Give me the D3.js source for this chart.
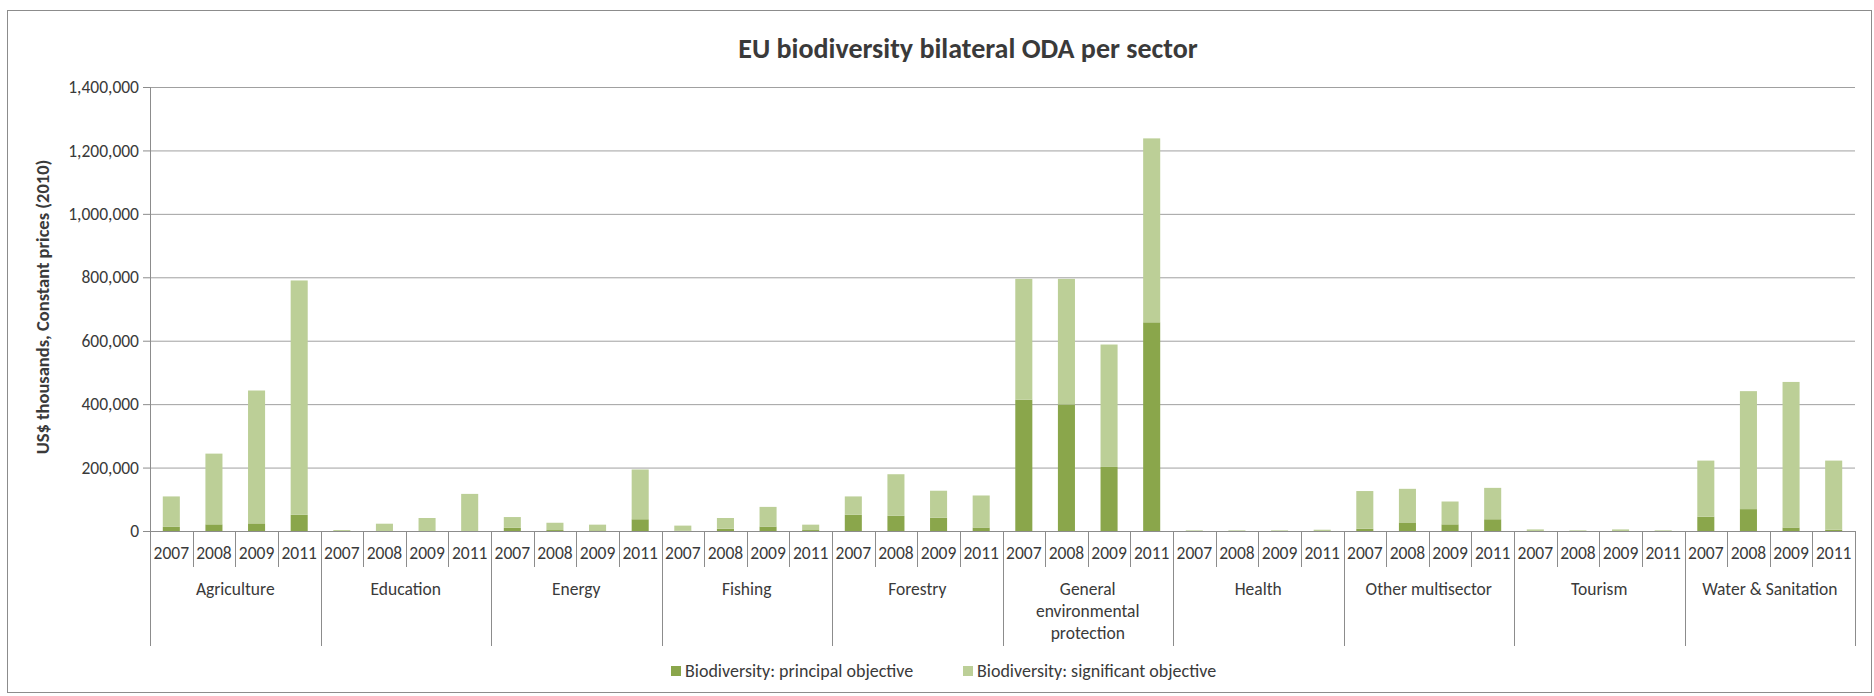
<!DOCTYPE html>
<html>
<head>
<meta charset="utf-8">
<script src="https://cdn.jsdelivr.net/npm/d3@7"></script>
<style>
  body { margin: 0; background: #fff; }
  svg text { font-family: Carlito, Calibri, Lato, sans-serif; fill: #3a3a3a; }
</style>
</head>
<body>
<div id="chart"></div>
<script>
// data (US$ thousands, constant 2010 prices)
const sectors = ['Agriculture', 'Education', 'Energy', 'Fishing', 'Forestry',
  'General environmental protection', 'Health', 'Other multisector', 'Tourism', 'Water & Sanitation'];
const years = ['2007', '2008', '2009', '2011'];

const principalObjective = [
  [13000, 21000, 24000, 51000],
  [0, 0, 0, 0],
  [10000, 3000, 2000, 37000],
  [1000, 7000, 14000, 3000],
  [51000, 48000, 42000, 11000],
  [414000, 399000, 202000, 658000],
  [0, 0, 0, 0],
  [7000, 27000, 21000, 37000],
  [0, 0, 0, 0],
  [45000, 69000, 11000, 4000],
];
const significantObjective = [
  [96000, 223000, 419000, 739000],
  [3000, 23000, 41000, 117000],
  [34000, 23000, 18000, 157000],
  [16000, 34000, 62000, 17000],
  [58000, 131000, 85000, 101000],
  [381000, 396000, 386000, 580000],
  [2000, 2000, 2000, 4000],
  [119000, 106000, 72000, 99000],
  [5000, 2000, 5000, 2000],
  [177000, 372000, 459000, 218000],
];
const seriesNames = ['Biodiversity: principal objective', 'Biodiversity: significant objective'];
const yTicks = [0, 200000, 400000, 600000, 800000, 1000000, 1200000, 1400000];

const WIDTH = 1874;
const HEIGHT = 696;
const COLORS = ['#8aa64b', '#bccf97'];
const FONT = '17.5px';
const margin = { left: 150, right: 19, top: 87, bottom: 165 };
const innerW = WIDTH - margin.left - margin.right;
const innerH = HEIGHT - margin.top - margin.bottom;

// flatten rows
const rows = [];
sectors.forEach((s, i) => {
  years.forEach((y, j) => {
    rows.push({ key: s + '|' + y, sector: s, year: y,
      principal: principalObjective[i][j], significant: significantObjective[i][j] });
  });
});

const stack = d3.stack().keys(['principal', 'significant']);
const stacked = stack(rows);

const svg = d3.select('#chart').append('svg')
  .attr('width', WIDTH).attr('height', HEIGHT);

// outer chart border
svg.append('rect')
  .attr('x', 7.5).attr('y', 10.5)
  .attr('width', WIDTH - 10).attr('height', HEIGHT - 14)
  .attr('fill', 'none').attr('stroke', '#8c8c8c');

const g = svg.append('g').attr('transform', `translate(${margin.left},${margin.top})`);

// scales
const slot = d3.scaleBand().domain(rows.map((d) => d.key)).range([0, innerW]).padding(0);
const xBar = d3.scaleBand().domain(rows.map((d) => d.key)).range([0, innerW])
  .paddingInner(0.6).paddingOuter(0.3);
const xSector = d3.scaleBand().domain(sectors).range([0, innerW]).padding(0);
const y = d3.scaleLinear().domain([0, 1400000]).range([innerH, 0]);

// gridlines
g.append('g')
  .call(d3.axisLeft(y).tickValues(yTicks.slice(1)).tickSize(-innerW).tickFormat(''))
  .call((s) => s.select('.domain').remove())
  .call((s) => s.selectAll('line').attr('stroke', '#a0a0a0'));

// y axis
g.append('g')
  .call(d3.axisLeft(y).tickValues(yTicks).tickSize(7).tickPadding(4).tickFormat(d3.format(',')))
  .call((s) => s.select('.domain').attr('stroke', '#8c8c8c'))
  .call((s) => s.selectAll('line').attr('stroke', '#8c8c8c'))
  .call((s) => s.selectAll('text').style('font-size', FONT).attr('fill', '#3a3a3a'));

// bars
g.selectAll('.series')
  .data(stacked)
  .join('g')
  .attr('class', 'series')
  .attr('fill', (d, i) => COLORS[i])
  .selectAll('rect')
  .data((d) => d)
  .join('rect')
  .attr('x', (d) => xBar(d.data.key))
  .attr('width', xBar.bandwidth())
  .attr('y', (d) => y(d[1]))
  .attr('height', (d) => y(d[0]) - y(d[1]));

// x axis: base line
g.append('line')
  .attr('x1', 0).attr('x2', innerW)
  .attr('y1', innerH + 0.5).attr('y2', innerH + 0.5)
  .attr('stroke', '#8c8c8c');

// year ticks + labels
const xAxis = g.append('g').attr('transform', `translate(0,${innerH})`);
xAxis.selectAll('.yearTick')
  .data(rows)
  .join('line')
  .attr('class', 'yearTick')
  .attr('x1', (d) => Math.round(slot(d.key)) + 0.5)
  .attr('x2', (d) => Math.round(slot(d.key)) + 0.5)
  .attr('y1', 0).attr('y2', 36)
  .attr('stroke', '#8c8c8c');
xAxis.selectAll('.yearLabel')
  .data(rows)
  .join('text')
  .attr('class', 'yearLabel')
  .attr('x', (d) => slot(d.key) + slot.bandwidth() / 2)
  .attr('y', 28)
  .attr('text-anchor', 'middle')
  .style('font-size', FONT)
  .text((d) => d.year);

// sector separators
xAxis.selectAll('.sectorTick')
  .data(sectors.concat(['end']))
  .join('line')
  .attr('class', 'sectorTick')
  .attr('x1', (d) => (d === 'end' ? innerW : Math.round(xSector(d))) + 0.5)
  .attr('x2', (d) => (d === 'end' ? innerW : Math.round(xSector(d))) + 0.5)
  .attr('y1', 0).attr('y2', 115)
  .attr('stroke', '#8c8c8c');

const sectorLabels = xAxis.selectAll('.sectorLabel')
  .data(sectors)
  .join('text')
  .attr('class', 'sectorLabel')
  .attr('x', (d) => xSector(d) + xSector.bandwidth() / 2)
  .attr('y', 64)
  .attr('text-anchor', 'middle')
  .style('font-size', FONT)
  .text((d) => d);

// wrap long sector names
function wrap(textSel, maxWidth) {
  textSel.each(function () {
    const text = d3.select(this);
    const words = text.text().split(/\s+/);
    const x = text.attr('x');
    text.text(null);
    let line = [];
    let tspan = text.append('tspan').attr('x', x).attr('dy', 0);
    words.forEach((w) => {
      line.push(w);
      tspan.text(line.join(' '));
      if (tspan.node().getComputedTextLength() > maxWidth && line.length > 1) {
        line.pop();
        tspan.text(line.join(' '));
        line = [w];
        tspan = text.append('tspan').attr('x', x).attr('dy', '22px').text(w);
      }
    });
  });
}
sectorLabels.call(wrap, 150);

// title
svg.append('text')
  .attr('x', 968).attr('y', 58)
  .attr('text-anchor', 'middle')
  .style('font-size', '28px')
  .style('font-weight', 'bold')
  .attr('fill', '#000')
  .text('EU biodiversity bilateral ODA per sector');

// y axis title
svg.append('text')
  .attr('transform', `translate(49,${margin.top + innerH / 2 - 2}) rotate(-90)`)
  .attr('text-anchor', 'middle')
  .style('font-size', '18.5px')
  .style('font-weight', 'bold')
  .attr('fill', '#000')
  .text('US$ thousands, Constant prices (2010)');

// legend
const legend = svg.append('g').attr('transform', 'translate(671,671)');
const legendItems = legend.selectAll('g')
  .data(seriesNames)
  .join('g')
  .attr('transform', (d, i) => `translate(${i * 292},0)`);
legendItems.append('rect')
  .attr('x', 0).attr('y', -5)
  .attr('width', 10).attr('height', 10)
  .attr('fill', (d, i) => COLORS[i]);
legendItems.append('text')
  .attr('x', 14).attr('y', 6)
  .style('font-size', '18px')
  .text((d) => d);
</script>
</body>
</html>
